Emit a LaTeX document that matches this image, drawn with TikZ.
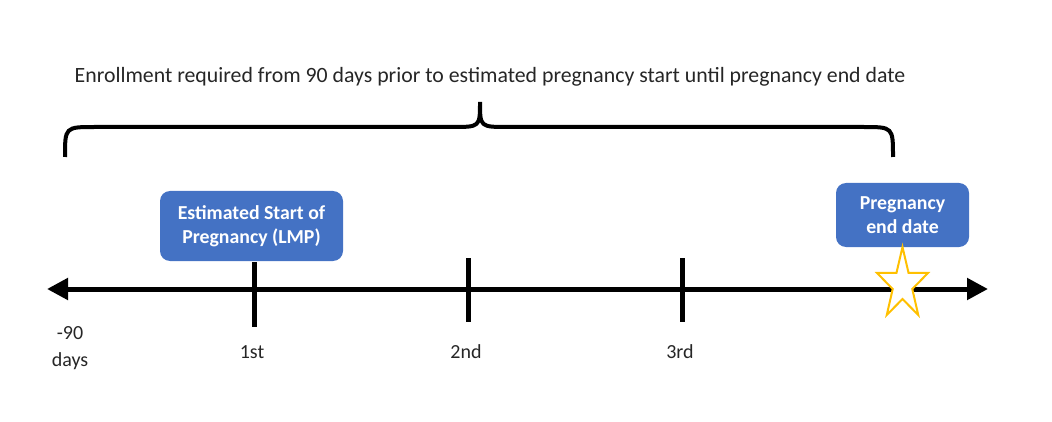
\documentclass[tikz,border=0pt]{standalone}
\usepackage{fontspec}
\setmainfont{Carlito}
\usetikzlibrary{arrows.meta,positioning}
\definecolor{boxblue}{HTML}{4472C4}
\definecolor{stargold}{HTML}{FFC000}
\tikzstyle{axis} = [draw, line width=5pt, {Triangle[length=21pt,width=21pt]}-{Triangle[length=21pt,width=21pt]}]
\tikzstyle{tick} = [draw, line width=5pt, -]
\tikzstyle{brace} = [draw, line width=4pt, -]
\tikzstyle{event}=[rounded corners=10pt, fill=boxblue, text=white, font=\fontsize{19.8}{24}\selectfont\bfseries, align=center, inner sep=0pt]
\tikzstyle{ticklabel}=[font=\fontsize{20}{24}\selectfont, text=black!85, inner sep=0pt]

\begin{document}
\begin{tikzpicture}[x=1pt,y=-1pt]
       \useasboundingbox (0,0) rectangle (1052,422);
       % timeline
       \coordinate (start) at (47,289);
       \coordinate (end) at (988,289);
       \path[axis] (start) -- (end);

       \foreach \x/\top/\bot/\name/\txt in {254/262/327/first/1st, 468/258/322/second/2nd, 682/258/322/third/3rd} {
           \coordinate (\name top) at (\x,\top);
           \coordinate (\name bot) at (\x,\bot);
           \path[tick] (\name top) -- (\name bot);
           \node[ticklabel] (\name label) at (\x-2,352) {\txt};
       }
       \node[ticklabel, align=center] (before) at (70,348) {-90\\[3pt]days};

       % event boxes
       \node[event, minimum width=183pt, minimum height=70pt] (lmp) at (251.5,226) {Estimated Start of\\Pregnancy (LMP)};
       \node[event, minimum width=133pt, minimum height=64pt] (enddate) at (902.5,215) {Pregnancy\\end date};

       % star on the end date
       \foreach \i/\rx/\ry in {0/26.8/37.6, 1/10.3/14.4, 2/26.8/37.6, 3/10.3/14.4, 4/26.8/37.6, 5/10.3/14.4, 6/26.8/37.6, 7/10.3/14.4, 8/26.8/37.6, 9/10.3/14.4}
           \coordinate (s\i) at ({902.5+\rx*cos(90+36*\i)},{284.6-\ry*sin(90+36*\i)});
       \filldraw[draw=stargold, fill=white, line width=2pt, line join=miter]
           (s0) -- (s1) -- (s2) -- (s3) -- (s4) -- (s5) -- (s6) -- (s7) -- (s8) -- (s9) -- cycle;

       % enrollment window
       \coordinate (bl) at (65,157);
       \coordinate (br) at (893,157);
       \coordinate (peak) at (480,102);
       \path[brace] (bl) .. controls (65,127) .. (95,127) -- (452,127)
           .. controls (480,127) .. (peak) .. controls (480,127) .. (508,127)
           -- (863,127) .. controls (893,127) .. (br);
       \node[ticklabel, font=\fontsize{21.8}{26}\selectfont] (window) at (490,77) {Enrollment required from 90 days prior to estimated pregnancy start until pregnancy end date};
\end{tikzpicture}
\end{document}
